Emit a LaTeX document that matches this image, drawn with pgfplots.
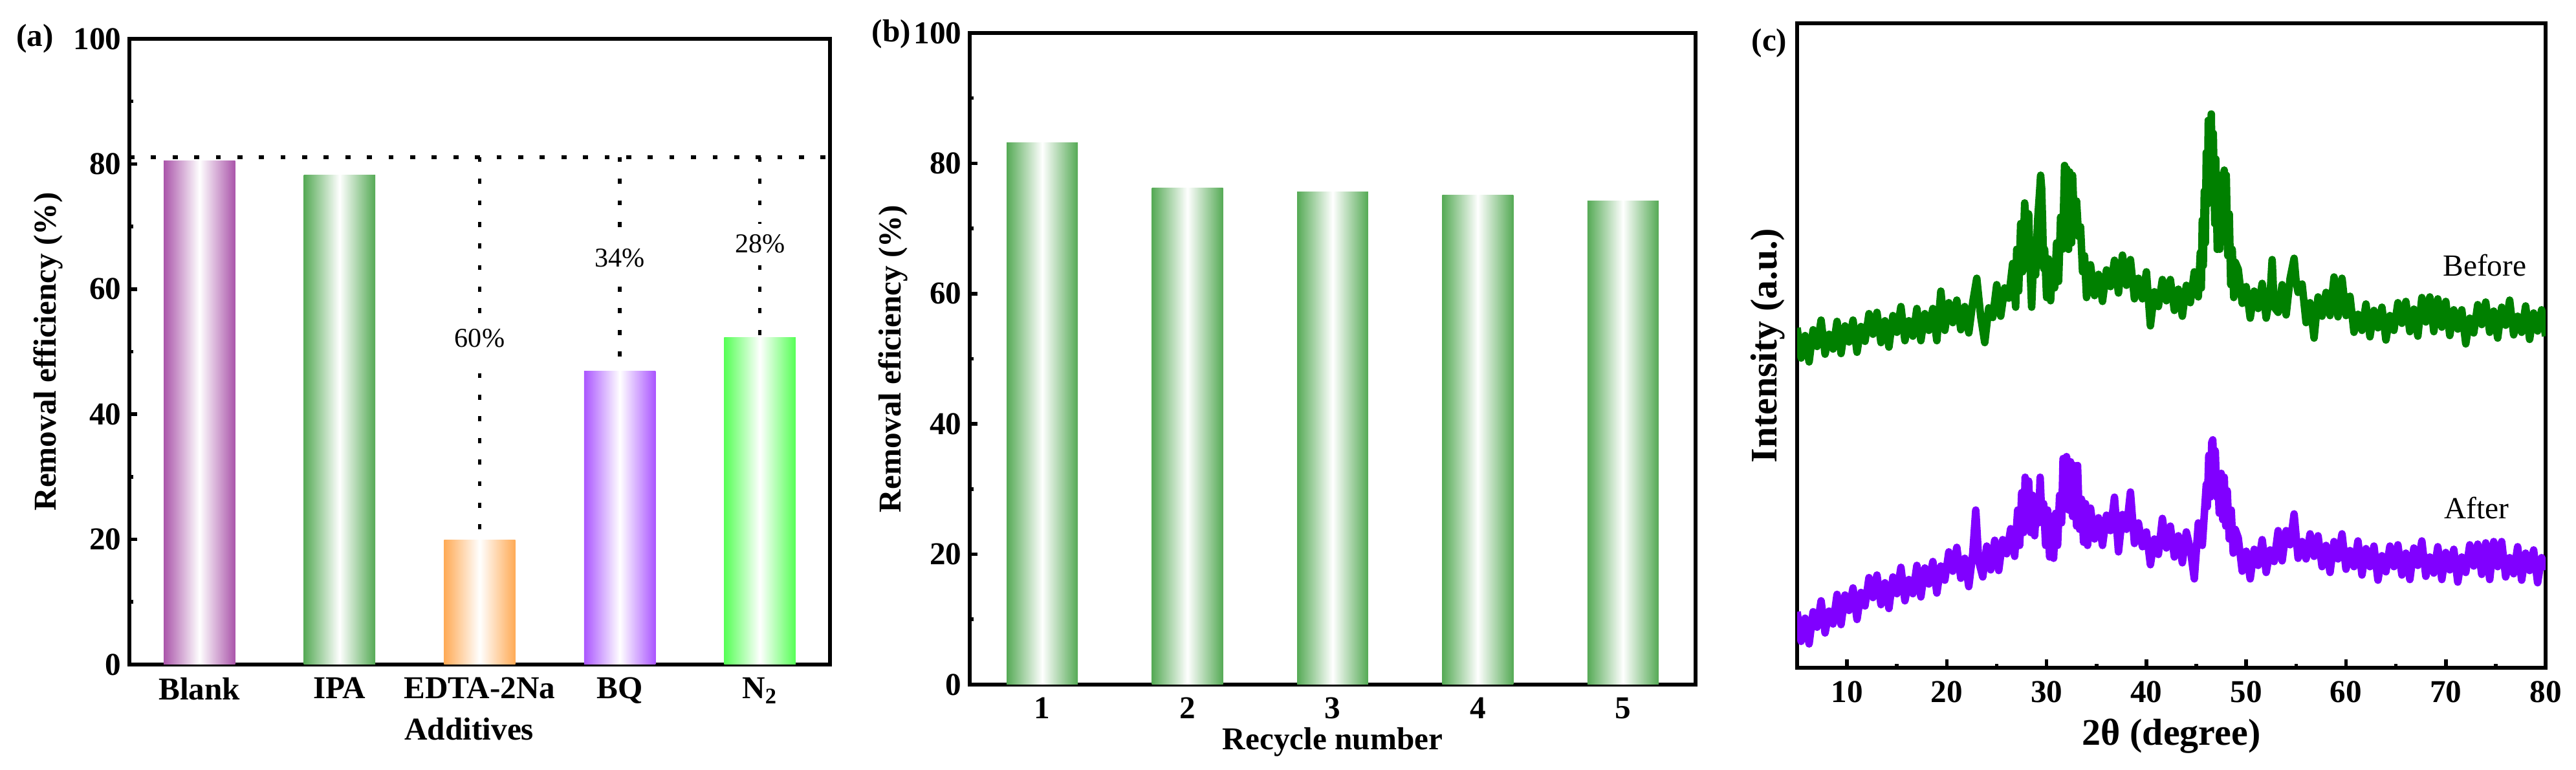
\documentclass[border=0pt]{standalone}
\usepackage{pgfplots}
\pgfplotsset{compat=1.18}
\usepackage{fontspec}
\setmainfont{Liberation Serif}

\definecolor{cBlank}{RGB}{170,85,170}
\definecolor{cIPA}{RGB}{85,170,85}
\definecolor{cEDTA}{RGB}{255,170,85}
\definecolor{cBQ}{RGB}{170,85,255}
\definecolor{cN}{RGB}{85,255,85}
\definecolor{cXg}{RGB}{0,128,0}
\definecolor{cXp}{RGB}{128,0,255}

\newcommand\fa{\fontsize{14}{16}\selectfont}
\newcommand\fc{\fontsize{16.5}{18}\selectfont}

\pgfplotsset{
  panel/.style={
    scale only axis,
    anchor=south west,
    axis line style={line width=1.9pt},
    tick align=inside,
    xtick pos=bottom, ytick pos=left,
    major tick length=0.12cm, minor tick length=0.06cm,
    every tick/.style={black, line width=1.6pt},
    tick label style={font=\fa\bfseries},
    xticklabel style={yshift=-0.08cm},
    /pgf/number format/assume math mode=true,
  },
  cyl/.style={ybar, bar shift=0pt, draw=none, left color=#1, right color=#1, middle color=white},
  dots/.style={black, line width=1.6pt, dash pattern=on 2.2pt off 7.3pt},
  xrd/.style={#1, line width=3.3pt, line join=round},
}

\begin{document}
\begin{tikzpicture}
\path[use as bounding box] (0,0) rectangle (39.82cm,11.9cm);

% (a) scavenger experiments
\begin{axis}[panel,
  at={(2.0cm,1.63cm)}, width=10.83cm, height=9.67cm,
  xmin=0.5, xmax=5.5, ymin=0, ymax=100,
  xtick={1,2,3,4,5},
  xticklabels={Blank,IPA,EDTA-2Na,BQ,N\textsubscript{2}},
  ytick={0,20,40,60,80,100}, minor ytick={10,30,50,70,90},
  xlabel={Additives}, ylabel={Removal efficiency (\%)},
  xlabel style={at={(axis description cs:0.485,-0.121)}, anchor=base, font=\fa\bfseries},
  ylabel style={at={(axis description cs:-0.116,0.5)}, rotate=0, anchor=center, font=\fa\bfseries},
]
\addplot[cyl=cBlank, bar width=0.51] coordinates {(1,80.5)};
\addplot[cyl=cIPA, bar width=0.51] coordinates {(2,78.2)};
\addplot[cyl=cEDTA, bar width=0.51] coordinates {(3,19.9)};
\addplot[cyl=cBQ, bar width=0.51] coordinates {(4,46.9)};
\addplot[cyl=cN, bar width=0.51] coordinates {(5,52.3)};
\addplot[dots] coordinates {(0.5,81.1) (5.5,81.1)};
\addplot[dots] coordinates {(3,81.1) (3,20)};
\addplot[dots] coordinates {(4,81.1) (4,47)};
\addplot[dots] coordinates {(5,81.1) (5,52.4)};
\node[fill=white, inner xsep=1pt, inner ysep=0.25cm, font=\fontsize{12}{14}\selectfont] at (axis cs:3,52.1) {60\%};
\node[fill=white, inner xsep=1pt, inner ysep=0.2cm, font=\fontsize{12}{14}\selectfont] at (axis cs:4,65.0) {34\%};
\node[fill=white, inner xsep=1pt, inner ysep=0.17cm, font=\fontsize{12}{14}\selectfont] at (axis cs:5,67.2) {28\%};
\end{axis}

% (b) recycling
\begin{axis}[panel,
  at={(14.99cm,1.32cm)}, width=11.22cm, height=10.07cm,
  xmin=0.5, xmax=5.5, ymin=0, ymax=100,
  xtick={1,2,3,4,5},
  ytick={0,20,40,60,80,100}, minor ytick={10,30,50,70,90},
  xlabel={Recycle number}, ylabel={Removal eficiency (\%)},
  xlabel style={at={(axis description cs:0.5,-0.1)}, anchor=base, font=\fa\bfseries},
  ylabel style={at={(axis description cs:-0.106,0.5)}, rotate=0, anchor=center, font=\fa\bfseries},
]
\addplot[cyl=cIPA, bar width=0.49] coordinates {(1,83.2)};
\addplot[cyl=cIPA, bar width=0.49] coordinates {(2,76.2)};
\addplot[cyl=cIPA, bar width=0.49] coordinates {(3,75.6)};
\addplot[cyl=cIPA, bar width=0.49] coordinates {(4,75.1)};
\addplot[cyl=cIPA, bar width=0.49] coordinates {(5,74.2)};
\end{axis}

% (c) XRD
\begin{axis}[panel,
  at={(27.78cm,1.58cm)}, width=11.57cm, height=9.96cm,
  xmin=5, xmax=80, ymin=0, ymax=1001,
  xtick={10,20,...,80}, minor xtick={15,25,...,75},
  major tick length=0.13cm,
  ytick=\empty,
  xlabel={2θ (degree)}, ylabel={Intensity (a.u.)},
  xlabel style={at={(axis description cs:0.5,-0.12)}, anchor=base, font=\fc\bfseries},
  ylabel style={at={(axis description cs:-0.039,0.5)}, rotate=0, anchor=center, font=\fc\bfseries},
]
\addplot[xrd=cXg] coordinates {
(5.0,528) (5.4,481) (5.8,516) (6.2,475) (6.6,525) (7.0,499) (7.4,540) (7.8,487) (8.2,518) (8.6,495)
(9.0,538) (9.4,488) (9.8,531) (10.2,506) (10.6,540) (11.0,490) (11.4,530) (11.8,507) (12.2,550) (12.6,518)
(13.0,552) (13.4,505) (13.8,539) (14.2,498) (14.6,547) (15.0,521) (15.4,561) (15.8,508) (16.2,539) (16.6,515)
(17.0,558) (17.4,508) (17.8,550) (18.2,524) (18.6,558) (19.0,508) (19.4,585) (19.8,524) (20.2,567) (20.6,536)
(21.0,571) (21.4,525) (21.8,561) (22.2,520) (22.6,568) (23.0,605) (23.4,545) (23.8,505) (24.2,559) (24.6,544)
(25.0,595) (25.4,546) (25.8,590) (26.2,574) (26.6,628) (26.9,560)
(27.0,650) (27.2,585) (27.4,690) (27.6,615) (27.8,722) (27.9,700) (28.1,640) (28.2,705) (28.4,600) (28.5,560)
(28.6,600) (28.7,648) (28.9,610) (29.1,695) (29.3,740) (29.4,765) (29.5,745) (29.6,690) (29.7,620) (29.8,650)
(30.0,575) (30.2,635) (30.4,570) (30.6,630) (30.8,590) (31.0,660) (31.2,600) (31.4,700) (31.6,650) (31.8,780)
(31.9,690) (32.0,775) (32.2,650) (32.3,770) (32.5,660) (32.6,765) (32.8,680) (33.0,725) (33.2,670) (33.4,685)
(33.6,615) (33.8,640) (34.0,575)
(34.4,626) (34.8,578) (35.2,611) (35.6,569) (36.0,618) (36.4,592) (36.8,633) (37.2,582) (37.6,641) (38.0,594)
(38.4,634) (38.8,573) (39.2,605) (39.6,573) (40.0,615) (40.4,531) (40.8,584) (41.2,561) (41.6,603) (42.0,570)
(42.4,603) (42.8,555) (43.2,588) (43.6,546) (44.0,594) (44.4,567) (44.8,615) (45.2,576)
(45.4,645) (45.5,590) (45.6,695) (45.7,625) (45.8,740) (45.9,660) (46.0,800) (46.1,720) (46.2,850) (46.35,760)
(46.5,860) (46.6,740) (46.7,830) (46.85,690) (46.95,790) (47.1,650) (47.2,715) (47.35,650) (47.5,765) (47.6,690)
(47.8,773) (47.9,700) (48.0,765) (48.15,640) (48.3,705) (48.45,595) (48.6,650) (48.75,575) (48.9,630)
(49.2,619) (49.6,566) (50.0,592) (50.4,543) (50.8,585) (51.2,558) (51.6,597) (52.0,543) (52.4,581) (52.6,634)
(52.8,560) (53.2,552) (53.6,595) (54.0,548) (54.4,605) (54.8,636) (55.0,600) (55.2,583) (55.6,596) (56.0,536)
(56.4,567) (56.8,512) (57.2,576) (57.6,546) (58.0,583) (58.4,547) (58.8,607) (59.2,545) (59.6,605) (60.0,547)
(60.4,577) (60.8,521) (61.2,549) (61.6,524) (62.0,565) (62.4,514) (62.8,555) (63.2,528) (63.6,560) (64.0,509)
(64.4,547) (64.8,524) (65.2,567) (65.6,535) (66.0,569) (66.4,522) (66.8,557) (67.2,515) (67.6,575) (68.0,537)
(68.4,576) (68.8,522) (69.2,573) (69.6,529) (70.0,569) (70.4,516) (70.8,556) (71.2,526) (71.6,556) (72.0,503)
(72.4,543) (72.8,520) (73.2,564) (73.6,533) (74.0,568) (74.4,521) (74.8,554) (75.2,512) (75.6,560) (76.0,532)
(76.4,571) (76.8,517) (77.2,546) (77.6,521) (78.0,562) (78.4,510) (78.8,551) (79.2,523) (79.6,556) (80.0,515)
};
\addplot[xrd=cXp] coordinates {
(5.0,87) (5.4,41) (5.8,77) (6.2,37) (6.6,87) (7.0,63) (7.4,104) (7.8,54) (8.2,88) (8.6,68)
(9.0,114) (9.4,67) (9.8,113) (10.2,89) (10.6,124) (11.0,75) (11.4,117) (11.8,96) (12.2,140) (12.6,109)
(13.0,144) (13.4,98) (13.8,132) (14.2,92) (14.6,141) (15.0,115) (15.4,156) (15.8,104) (16.2,137) (16.6,115)
(17.0,159) (17.4,110) (17.8,155) (18.2,130) (18.6,165) (19.0,116) (19.4,158) (19.8,136) (20.2,180) (20.6,150)
(21.0,187) (21.4,139) (21.8,170) (22.2,126) (22.6,178) (22.9,245) (23.2,165) (23.6,141) (24.0,189) (24.4,152)
(24.8,198) (25.2,151) (25.6,199) (26.0,177) (26.4,216) (26.8,173)
(27.1,245) (27.3,190) (27.5,272) (27.7,210) (27.85,296) (28.0,225) (28.2,290) (28.4,210) (28.6,268) (28.8,205)
(29.0,255) (29.2,225) (29.35,296) (29.5,240) (29.7,255) (29.9,190) (30.1,245) (30.3,172) (30.5,235) (30.7,170)
(30.9,240) (31.1,190) (31.3,268) (31.5,225) (31.65,325) (31.8,250) (32.0,328) (32.2,245) (32.4,320) (32.6,235)
(32.8,314) (33.0,220) (33.1,314) (33.3,215) (33.5,262) (33.7,195) (33.9,255) (34.1,190)
(34.4,248) (34.8,200) (35.2,233) (35.6,190) (36.0,237) (36.4,213) (36.8,265) (37.2,180) (37.6,238) (38.0,215)
(38.4,273) (38.8,193) (39.2,225) (39.6,188) (40.0,211) (40.4,160) (40.8,200) (41.2,176) (41.6,232) (42.0,186)
(42.4,220) (42.8,172) (43.2,205) (43.6,163) (44.0,211) (44.4,184) (44.8,138) (45.2,225) (45.6,190) (46.0,285)
(46.1,250) (46.25,330) (46.4,265) (46.55,350) (46.65,354) (46.8,290) (46.9,337) (47.05,265) (47.15,296) (47.3,240)
(47.5,302) (47.65,230) (47.8,296) (47.95,220) (48.1,275) (48.3,200) (48.5,245) (48.7,178) (48.9,215)
(49.2,202) (49.6,150) (50.0,181) (50.4,138) (50.8,184) (51.2,159) (51.6,199) (52.0,148) (52.4,183) (52.8,165)
(53.2,213) (53.6,166) (54.0,213) (54.4,191) (54.8,239) (55.2,170) (55.6,196) (56.0,169) (56.4,208) (56.8,173)
(57.2,205) (57.6,157) (58.0,190) (58.4,148) (58.8,196) (59.2,169) (59.6,208) (60.0,153) (60.4,182) (60.8,157)
(61.2,197) (61.6,144) (62.0,185) (62.4,157) (62.8,189) (63.2,136) (63.6,174) (64.0,149) (64.4,189) (64.8,157)
(65.2,191) (65.6,144) (66.0,178) (66.4,137) (66.8,186) (67.2,159) (67.6,197) (68.0,142) (68.4,172) (68.8,147)
(69.2,188) (69.6,137) (70.0,179) (70.4,152) (70.8,184) (71.2,133) (71.6,172) (72.0,148) (72.4,191) (72.8,158)
(73.2,192) (73.6,145) (74.0,194) (74.4,137) (74.8,196) (75.2,157) (75.6,196) (76.0,141) (76.4,171) (76.8,146)
(77.2,188) (77.6,136) (78.0,178) (78.4,151) (78.8,183) (79.2,132) (79.6,171) (80.0,152)
};
\node[font=\fontsize{13.5}{15}\selectfont] at (axis cs:73.9,625) {Before};
\node[font=\fontsize{13.5}{15}\selectfont] at (axis cs:73.1,248) {After};
\end{axis}

\node[font=\fa\bfseries] at (0.54cm,11.3cm) {(a)};
\node[font=\fa\bfseries] at (13.78cm,11.37cm) {(b)};
\node[font=\fa\bfseries] at (27.35cm,11.23cm) {(c)};
\end{tikzpicture}
\end{document}
